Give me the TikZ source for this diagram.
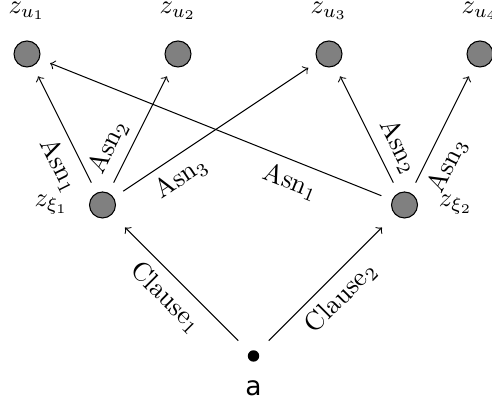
\documentclass[tikz,border=0pt]{standalone}
\usepackage{fontspec}
\newfontfamily\dejavusans{DejaVu Sans}
\begin{document}
\begin{tikzpicture}[
  latent/.style={circle, draw=black, fill=gray, minimum size=9.8pt, inner sep=0pt, outer sep=4.5pt},
  obs/.style={circle, fill=black, minimum size=4.3pt, inner sep=0pt, outer sep=4.5pt},
  asn/.style={->},
  lab/.style={sloped, near start},
  clause/.style={->, shorten <=1.5pt, shorten >=2.6pt},
  clab/.style={sloped, midway, below},
  toplab/.style={label distance=-0.8pt}
]
\useasboundingbox (-0.3576,-0.636) rectangle (6.159,4.715);
\node[latent, toplab, label=above:{$z_{u_1}$}] (u1) at (0,4) {};
\node[latent, toplab, label=above:{$z_{u_2}$}] (u2) at (2,4) {};
\node[latent, toplab, label=above:{$z_{u_3}$}] (u3) at (4,4) {};
\node[latent, toplab, label=above:{$z_{u_4}$}] (u4) at (6,4) {};
\node[latent, label=left:{$z_{\xi_1}$}] (x1) at (1,2) {};
\node[latent, label=right:{$z_{\xi_2}$}] (x2) at (5,2) {};
\node[obs, label={[font=\dejavusans, label distance=-1pt]below:a}] (a) at (3,0) {};

\draw[asn] (x1) -- node[lab, below] {Asn$_1$} (u1);
\draw[asn] (x1) -- node[lab, above] {Asn$_2$} (u2);
\draw[asn] (x1) -- node[lab, below] {Asn$_3$} (u3);
\draw[asn] (x2) -- node[lab, below] {Asn$_1$} (u1);
\draw[asn] (x2) -- node[lab, above] {Asn$_2$} (u3);
\draw[asn] (x2) -- node[lab, below] {Asn$_3$} (u4);
\draw[clause] (a) -- node[clab] {Clause$_1$} (x1);
\draw[clause] (a) -- node[clab] {Clause$_2$} (x2);
\end{tikzpicture}
\end{document}
